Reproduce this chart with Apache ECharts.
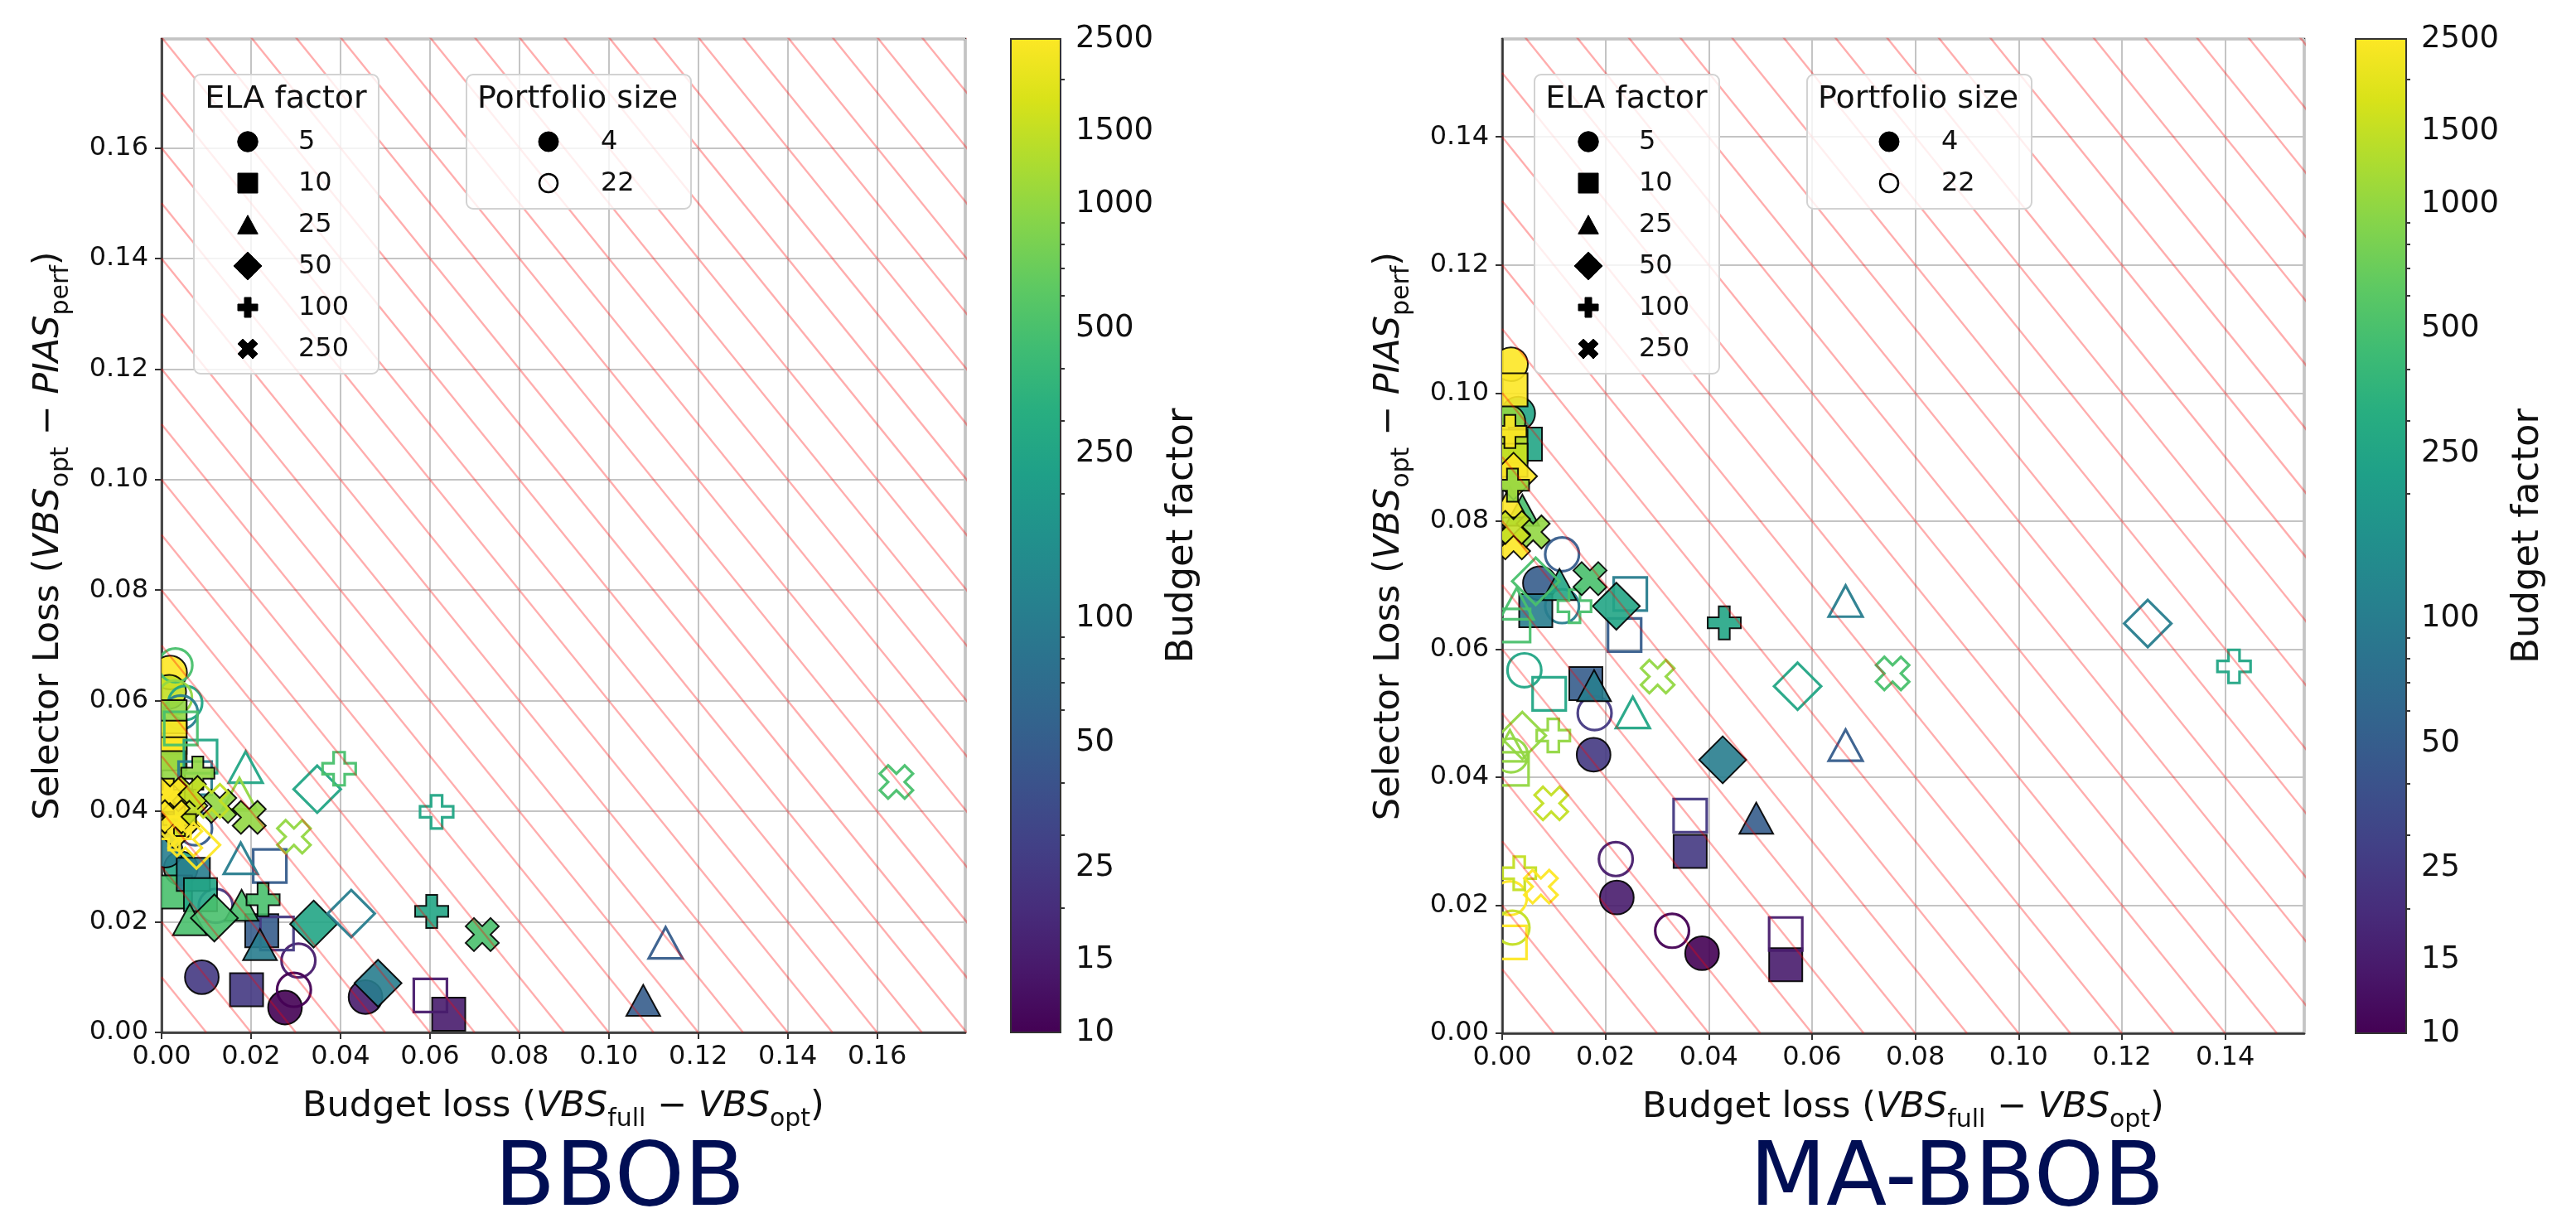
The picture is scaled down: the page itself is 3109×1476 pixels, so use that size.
<!DOCTYPE html>
<html>
<head>
<meta charset="utf-8">
<script src="https://cdn.jsdelivr.net/npm/echarts@6/dist/echarts.min.js"></script>
<style>
html,body{margin:0;padding:0;background:#ffffff;}
#chart{width:3109px;height:1476px;}
</style>
</head>
<body>
<div id="chart"></div>
<script>
// ---------------- DATA ----------------
const ELA_FACTORS = [5, 10, 25, 50, 100, 250];
const PORTFOLIO_SIZES = [4, 22];
const BUDGET_TICKS = [10, 15, 25, 50, 100, 250, 500, 1000, 1500, 2500];
const BUDGET_MINOR_TICKS = [20, 30, 40, 60, 70, 80, 90, 200, 300, 400, 600, 700, 800, 900, 2000];
const PANEL_TITLES = ['BBOB', 'MA-BBOB'];
const AXIS_MAX = [0.1797, 0.1553];

// each entry: [budget loss, selector loss, portfolio size, budget factor]
const bbobEla5 = [
  [0.0090, 0.0100, 4, 25], [0.0276, 0.0045, 4, 10], [0.0456, 0.0064, 4, 15],
  [0.0019, 0.0651, 4, 2500], [0.0017, 0.0616, 4, 1500], [0.0043, 0.0297, 4, 250],
  [0.0009, 0.0329, 4, 100],
  [0.0306, 0.0130, 22, 15], [0.0296, 0.0077, 22, 10], [0.0031, 0.0664, 22, 500],
  [0.0053, 0.0596, 22, 250], [0.0030, 0.0606, 22, 1000], [0.0043, 0.0579, 22, 100],
  [0.0121, 0.0229, 22, 25], [0.0075, 0.0369, 22, 50]
];
const bbobEla10 = [
  [0.0190, 0.0077, 4, 25], [0.0642, 0.0033, 4, 15], [0.0224, 0.0184, 4, 50],
  [0.0031, 0.0254, 4, 500], [0.0071, 0.0286, 4, 100], [0.0087, 0.0249, 4, 250],
  [0.0019, 0.0571, 4, 1000], [0.0019, 0.0534, 4, 2500], [0.0019, 0.0504, 4, 2500],
  [0.0015, 0.0479, 4, 1000],
  [0.0601, 0.0067, 22, 15], [0.0258, 0.0179, 22, 25], [0.0242, 0.0301, 22, 50],
  [0.0087, 0.0499, 22, 250], [0.0043, 0.0550, 22, 500], [0.0075, 0.0460, 22, 100]
];
const bbobEla25 = [
  [0.1077, 0.0058, 4, 50], [0.0220, 0.0159, 4, 100], [0.0179, 0.0230, 4, 500],
  [0.0063, 0.0204, 4, 500], [0.0020, 0.0400, 4, 2500],
  [0.1127, 0.0162, 22, 50], [0.0188, 0.0480, 22, 250], [0.0177, 0.0315, 22, 100],
  [0.0174, 0.0432, 22, 1000]
];
const bbobEla50 = [
  [0.0484, 0.0089, 4, 100], [0.0340, 0.0196, 4, 250], [0.0118, 0.0207, 4, 500],
  [0.0031, 0.0373, 4, 2500], [0.0050, 0.0410, 4, 1500],
  [0.0348, 0.0440, 22, 250], [0.0424, 0.0215, 22, 100], [0.0078, 0.0339, 22, 2500]
];
const bbobEla100 = [
  [0.0604, 0.0219, 4, 250], [0.0227, 0.0240, 4, 500], [0.0081, 0.0469, 4, 1000],
  [0.0015, 0.0429, 4, 2500], [0.0040, 0.0385, 4, 1500],
  [0.0615, 0.0399, 22, 250], [0.0397, 0.0477, 22, 500], [0.0028, 0.0360, 22, 2500]
];
const bbobEla250 = [
  [0.0717, 0.0177, 4, 500], [0.0130, 0.0409, 4, 1000], [0.0196, 0.0389, 4, 1000],
  [0.0062, 0.0434, 4, 1500], [0.0019, 0.0430, 4, 2500], [0.0026, 0.0390, 4, 2500],
  [0.1643, 0.0453, 22, 500], [0.0296, 0.0354, 22, 1000], [0.0112, 0.0419, 22, 1500],
  [0.0053, 0.0349, 22, 2500]
];

const mabbobEla5 = [
  [0.0387, 0.0125, 4, 10], [0.0222, 0.0212, 4, 15], [0.0177, 0.0435, 4, 25],
  [0.0073, 0.0703, 4, 50], [0.0031, 0.0968, 4, 250], [0.0012, 0.0955, 4, 1000],
  [0.0017, 0.1045, 4, 2500],
  [0.0329, 0.0160, 22, 10], [0.0220, 0.0272, 22, 15], [0.0179, 0.0500, 22, 25],
  [0.0116, 0.0748, 22, 50], [0.0116, 0.0667, 22, 100], [0.0043, 0.0567, 22, 250],
  [0.0017, 0.0434, 22, 1000], [0.0015, 0.0211, 22, 2500], [0.0020, 0.0165, 22, 1500]
];
const mabbobEla10 = [
  [0.0549, 0.0107, 4, 15], [0.0364, 0.0284, 4, 25], [0.0162, 0.0546, 4, 50],
  [0.0065, 0.0660, 4, 100], [0.0045, 0.0920, 4, 250], [0.0017, 0.0917, 4, 1500],
  [0.0017, 0.0895, 4, 1500], [0.0017, 0.1005, 4, 2500],
  [0.0549, 0.0155, 22, 15], [0.0364, 0.0340, 22, 25], [0.0237, 0.0622, 22, 50],
  [0.0248, 0.0686, 22, 100], [0.0091, 0.0530, 22, 250], [0.0022, 0.0637, 22, 500],
  [0.0019, 0.0413, 22, 1000], [0.0015, 0.0142, 22, 2500]
];
const mabbobEla25 = [
  [0.0492, 0.0336, 4, 50], [0.0178, 0.0543, 4, 100], [0.0111, 0.0701, 4, 250],
  [0.0039, 0.0817, 4, 500], [0.0015, 0.0830, 4, 2500],
  [0.0665, 0.0450, 22, 50], [0.0665, 0.0675, 22, 100], [0.0253, 0.0501, 22, 250],
  [0.0028, 0.0671, 22, 500], [0.0015, 0.0449, 22, 1000]
];
const mabbobEla50 = [
  [0.0427, 0.0427, 4, 100], [0.0221, 0.0667, 4, 250], [0.0022, 0.0870, 4, 2500],
  [0.1250, 0.0640, 22, 100], [0.0572, 0.0542, 22, 250], [0.0039, 0.0465, 22, 1000],
  [0.0065, 0.0706, 22, 500]
];
const mabbobEla100 = [
  [0.0430, 0.0641, 4, 250], [0.0020, 0.0856, 4, 1000], [0.0015, 0.0940, 4, 2500],
  [0.1417, 0.0573, 22, 250], [0.0099, 0.0465, 22, 1000], [0.0140, 0.0667, 22, 500],
  [0.0033, 0.0250, 22, 1500]
];
const mabbobEla250 = [
  [0.0170, 0.0710, 4, 500], [0.0060, 0.0783, 4, 1000], [0.0022, 0.0766, 4, 2500],
  [0.0022, 0.0790, 4, 1500],
  [0.0756, 0.0562, 22, 500], [0.0301, 0.0557, 22, 1000], [0.0095, 0.0359, 22, 1500],
  [0.0075, 0.0229, 22, 2500]
];

const BBOB_GROUPS = [bbobEla5, bbobEla10, bbobEla25, bbobEla50, bbobEla100, bbobEla250];
const MABBOB_GROUPS = [mabbobEla5, mabbobEla10, mabbobEla25, mabbobEla50, mabbobEla100, mabbobEla250];

// ---------------- STYLE ----------------
const FONT = 'DejaVu Sans';
const TXT = '#111111';
const SPINE = '#333333';
const VIRIDIS = ['#440154','#48186a','#472d7b','#424086','#3b528b','#33638d','#2c728e','#26828e',
  '#21918c','#1fa088','#28ae80','#3fbc73','#5ec962','#84d44b','#addc30','#d8e219','#fde725'];
const LOG_MIN = Math.log10(BUDGET_TICKS[0]);
const LOG_MAX = Math.log10(BUDGET_TICKS[BUDGET_TICKS.length - 1]);

function hexToRgb(h){ return [parseInt(h.substr(1,2),16), parseInt(h.substr(3,2),16), parseInt(h.substr(5,2),16)]; }
function viridis(t){
  t = Math.max(0, Math.min(1, t));
  const n = VIRIDIS.length - 1, p = t * n, i = Math.min(Math.floor(p), n - 1), f = p - i;
  const a = hexToRgb(VIRIDIS[i]), b = hexToRgb(VIRIDIS[i + 1]);
  const c = a.map((v, k) => Math.round(v + (b[k] - v) * f));
  return 'rgb(' + c.join(',') + ')';
}
function budgetColor(b){ return viridis((Math.log10(b) - LOG_MIN) / (LOG_MAX - LOG_MIN)); }

// marker outlines in unit coordinates (matplotlib 'P' and 'X')
const PLUS_PTS = [[2,0],[4,0],[4,2],[6,2],[6,4],[4,4],[4,6],[2,6],[2,4],[0,4],[0,2],[2,2]].map(([a,b]) => [a/6-0.5, b/6-0.5]);
const X_PTS = [[1,0],[2,1],[3,0],[4,1],[3,2],[4,3],[3,4],[2,3],[1,4],[0,3],[1,2],[0,1]].map(([a,b]) => [a/4-0.5, b/4-0.5]);

function markerShape(ela, cx, cy, s, style, z){
  const poly = pts => ({type: 'polygon', z2: z, shape: {points: pts.map(([a, b]) => [cx + a * s, cy + b * s])}, style});
  if (ela === 5) return {type: 'circle', z2: z, shape: {cx, cy, r: s * 0.51}, style};
  if (ela === 10) return {type: 'rect', z2: z, shape: {x: cx - s / 2, y: cy - s / 2, width: s, height: s}, style};
  if (ela === 25) return poly([[0, -0.47], [-0.51, 0.47], [0.51, 0.47]]);
  if (ela === 50) return poly([[0, -0.71], [0.71, 0], [0, 0.71], [-0.71, 0]]);
  if (ela === 100) return poly(PLUS_PTS);
  return poly(X_PTS);
}

const GRIDS = [
  {left: 195, top: 47, width: 970, height: 1199},
  {left: 1220, top: 47, width: 60, height: 1199},
  {left: 1813, top: 47, width: 968, height: 1200},
  {left: 2843, top: 47, width: 61, height: 1200}
];

function markerSeries(groups, xIdx, yIdx){
  const data = [];
  ELA_FACTORS.forEach((ela, k) => {
    groups[k].forEach(([x, y, p, b]) => data.push([x, y, ela, p, b]));
  });
  return {
    type: 'custom', xAxisIndex: xIdx, yAxisIndex: yIdx, clip: true, silent: true, animation: false, z: 3,
    dimensions: ['x', 'y', 'ela', 'portfolio', 'budget'],
    encode: {x: 0, y: 1},
    data,
    renderItem: (params, api) => {
      const pt = api.coord([api.value(0), api.value(1)]);
      const ela = api.value(2), p = api.value(3), b = api.value(4);
      const col = budgetColor(b);
      const filled = p === PORTFOLIO_SIZES[0];
      const style = filled
        ? {fill: col, stroke: '#000000', lineWidth: 2, opacity: 0.9}
        : {fill: 'none', stroke: col, lineWidth: 3.2, opacity: 0.95};
      return markerShape(ela, pt[0], pt[1], 40, style, params.dataIndex);
    }
  };
}

function hatchSeries(xIdx, yIdx){
  const out = [];
  for (let k = 1; k <= 36; k++) {
    const c = k / 100;
    out.push({type: 'line', xAxisIndex: xIdx, yAxisIndex: yIdx, data: [[c, 0], [0, c]],
      symbol: 'none', clip: true, silent: true, animation: false, z: 4,
      lineStyle: {color: 'rgba(255,0,0,0.32)', width: 2.4}});
  }
  return out;
}

const RICH = {
  n: {fontSize: 43, fontFamily: FONT, color: TXT, lineHeight: 60, verticalAlign: 'middle'},
  i: {fontSize: 43, fontFamily: FONT, color: TXT, fontStyle: 'italic', lineHeight: 60, verticalAlign: 'middle'},
  s: {fontSize: 30, fontFamily: FONT, color: TXT, lineHeight: 30, verticalAlign: 'bottom'}
};
const X_NAME = '{n|Budget loss (}{i|VBS}{s|full}{n| − }{i|VBS}{s|opt}{n|)}';
const Y_NAME = '{n|Selector Loss (}{i|VBS}{s|opt}{n| − }{i|PIAS}{s|perf}{n|)}';

function plotAxis(gridIndex, max, isX){
  return {
    type: 'value', gridIndex, min: 0, max, interval: 0.02,
    axisLine: {show: true, onZero: false, lineStyle: {color: SPINE, width: 2.5}},
    axisTick: {show: true, length: 8, lineStyle: {color: SPINE, width: 2}},
    axisLabel: {fontSize: 32, fontFamily: FONT, color: TXT, margin: isX ? 14 : 16,
                formatter: v => v.toFixed(2), showMaxLabel: false},
    splitLine: {show: true, lineStyle: {color: '#c4c4c4', width: 2}},
    name: isX ? X_NAME : Y_NAME,
    nameLocation: 'middle', nameGap: isX ? 60 : 106, nameRotate: isX ? 0 : 90,
    nameMoveOverlap: false,
    nameTextStyle: {fontSize: 43, fontFamily: FONT, color: TXT, rich: RICH}
  };
}

function cbXAxis(gridIndex){ return {type: 'value', gridIndex, min: 0, max: 1, show: false}; }
function cbYAxis(gridIndex, major){
  const vals = (major ? BUDGET_TICKS : BUDGET_MINOR_TICKS).map(v => Math.log10(v));
  return {
    type: 'value', gridIndex, position: 'right', min: LOG_MIN, max: LOG_MAX,
    axisLine: {show: false}, splitLine: {show: false},
    axisTick: {show: true, length: major ? 8 : 5, customValues: vals, lineStyle: {color: SPINE, width: 2}},
    axisLabel: {show: major, customValues: vals, fontSize: 37, fontFamily: FONT, color: TXT, margin: 18,
                formatter: v => String(Math.round(Math.pow(10, v)))},
    name: major ? 'Budget factor' : '', nameLocation: 'middle', nameRotate: 90, nameGap: 125,
    nameMoveOverlap: false,
    nameTextStyle: {fontSize: 45, fontFamily: FONT, color: TXT}
  };
}

function colorbarSeries(axisX, axisY){
  return {
    type: 'custom', xAxisIndex: axisX, yAxisIndex: axisY, silent: true, animation: false, z: 2,
    data: [[0, LOG_MIN, 1, LOG_MAX]],
    renderItem: (params, api) => {
      const p0 = api.coord([0, LOG_MIN]);
      const p1 = api.coord([1, LOG_MAX]);
      const stops = VIRIDIS.map((c, i) => ({offset: i / (VIRIDIS.length - 1), color: c}));
      return {
        type: 'rect',
        shape: {x: p0[0], y: p1[1], width: p1[0] - p0[0], height: p0[1] - p1[1]},
        style: {fill: new echarts.graphic.LinearGradient(0, 1, 0, 0, stops), stroke: SPINE, lineWidth: 2}
      };
    }
  };
}

// ---------------- LEGENDS (graphic) ----------------
function legendMarker(ela, cx, cy){
  const st = {fill: '#000', stroke: '#000', lineWidth: 1};
  const m = markerShape(ela, cx, cy, 24, st, 0);
  m.z = 101;
  return m;
}
function txt(str, x, y, size, align){
  return {type: 'text', z: 102, x, y,
          style: {text: str, fontSize: size, fontFamily: FONT, fill: TXT, align, verticalAlign: 'middle'}};
}
function legendGraphics(gl){
  const els = [];
  const box = {fill: 'rgba(255,255,255,0.8)', stroke: '#d2d2d2', lineWidth: 2};
  els.push({type: 'rect', z: 100, shape: {x: gl + 39, y: 90, width: 223, height: 361, r: 8}, style: box});
  els.push(txt('ELA factor', gl + 150, 120, 38, 'center'));
  ELA_FACTORS.forEach((e, i) => {
    const cy = 171 + 50 * i;
    els.push(legendMarker(e, gl + 104, cy));
    els.push(txt(String(e), gl + 165, cy + 1, 32, 'left'));
  });
  els.push({type: 'rect', z: 100, shape: {x: gl + 368, y: 90, width: 271, height: 162, r: 8}, style: box});
  els.push(txt('Portfolio size', gl + 502, 120, 38, 'center'));
  PORTFOLIO_SIZES.forEach((p, i) => {
    const cy = 171 + 50 * i;
    els.push({type: 'circle', z: 101, shape: {cx: gl + 467, cy, r: i === 0 ? 12 : 11},
              style: i === 0 ? {fill: '#000', stroke: '#000', lineWidth: 1} : {fill: 'none', stroke: '#000', lineWidth: 2.5}});
    els.push(txt(String(p), gl + 530, cy + 1, 32, 'left'));
  });
  return els;
}

const graphics = [].concat(
  legendGraphics(GRIDS[0].left),
  legendGraphics(GRIDS[2].left),
  [
    {type: 'text', z: 102, x: 748, y: 1426, style: {text: PANEL_TITLES[0], fontSize: 107, fontFamily: FONT,
      fill: '#010e54', align: 'center', verticalAlign: 'middle'}},
    {type: 'text', z: 102, x: 2362, y: 1426, style: {text: PANEL_TITLES[1], fontSize: 107, fontFamily: FONT,
      fill: '#010e54', align: 'center', verticalAlign: 'middle'}}
  ]
);

const option = {
  backgroundColor: '#ffffff',
  animation: false,
  textStyle: {fontFamily: FONT},
  grid: GRIDS.map((g, i) => Object.assign({
    show: i === 0 || i === 2, borderColor: SPINE, borderWidth: 2.5, backgroundColor: 'rgba(0,0,0,0)',
    containLabel: false, outerBoundsMode: 'none'
  }, g)),
  xAxis: [plotAxis(0, AXIS_MAX[0], true), cbXAxis(1), plotAxis(2, AXIS_MAX[1], true), cbXAxis(3)],
  yAxis: [
    plotAxis(0, AXIS_MAX[0], false),
    cbYAxis(1, true), cbYAxis(1, false),
    plotAxis(2, AXIS_MAX[1], false),
    cbYAxis(3, true), cbYAxis(3, false)
  ],
  series: [].concat(
    [markerSeries(BBOB_GROUPS, 0, 0)],
    hatchSeries(0, 0),
    [colorbarSeries(1, 1)],
    [markerSeries(MABBOB_GROUPS, 2, 3)],
    hatchSeries(2, 3),
    [colorbarSeries(3, 4)]
  ),
  graphic: graphics
};

const chart = echarts.init(document.getElementById('chart'), null, {renderer: 'canvas'});
chart.setOption(option);
</script>
</body>
</html>
